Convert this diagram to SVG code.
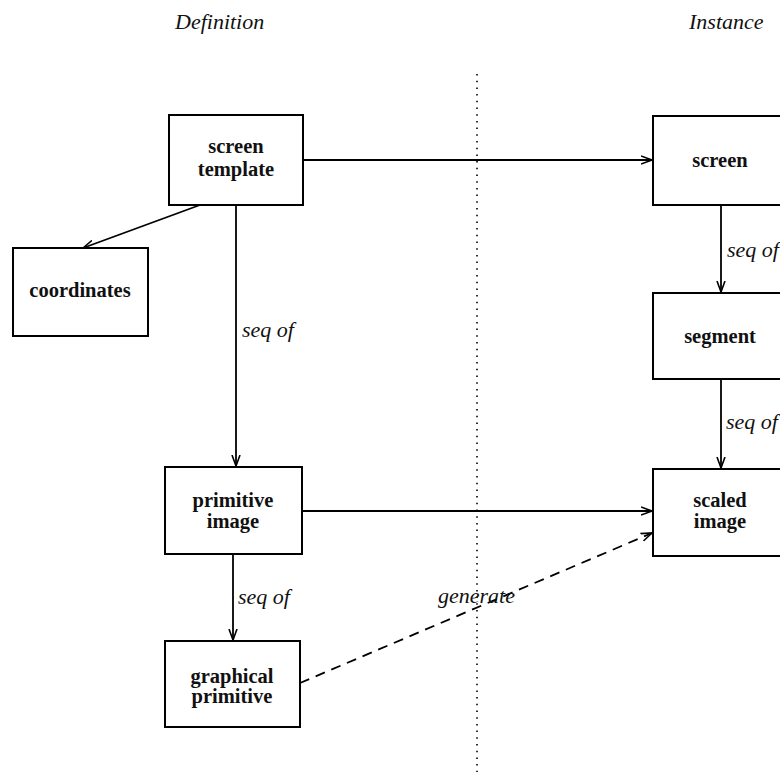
<svg xmlns="http://www.w3.org/2000/svg" width="780" height="779" viewBox="0 0 780 779">
<defs>
<marker id="open" viewBox="0 0 12 10" refX="11" refY="5" markerWidth="12" markerHeight="10" markerUnits="userSpaceOnUse" orient="auto">
<path d="M0,1 L11,5 L0,9" fill="none" stroke="#000" stroke-width="1.6"/>
</marker>
</defs>
<style>
.box{fill:#fff;stroke:#000;stroke-width:2}
.lbl{font-family:"Liberation Serif","Times New Roman",serif;font-size:20.5px;font-weight:bold;text-anchor:middle;fill:#111}
.it{font-family:"Liberation Serif","Times New Roman",serif;font-size:22px;font-style:italic;fill:#111}
.edge{fill:none;stroke:#000;stroke-width:1.8}
</style>
<rect width="780" height="779" fill="#fff"/>
<text class="it" x="175" y="29" font-size="22.5">Definition</text>
<text class="it" x="689" y="29" font-size="22.5">Instance</text>
<line x1="477" y1="74" x2="477" y2="772" stroke="#000" stroke-width="1.6" stroke-dasharray="1.5 5.2"/>
<g id="connectors">
<line class="edge" x1="303" y1="160" x2="652" y2="160" marker-end="url(#open)"/>
<line class="edge" x1="200" y1="205" x2="83" y2="248" marker-end="url(#open)"/>
<line class="edge" x1="236" y1="205" x2="236" y2="466" marker-end="url(#open)"/>
<text class="it" x="242" y="337">seq of</text>
<line class="edge" x1="721" y1="205" x2="721" y2="292" marker-end="url(#open)"/>
<text class="it" x="727" y="257">seq of</text>
<line class="edge" x1="721" y1="379" x2="721" y2="468" marker-end="url(#open)"/>
<text class="it" x="726" y="429">seq of</text>
<line class="edge" x1="302" y1="511" x2="652" y2="511" marker-end="url(#open)"/>
<line class="edge" x1="233" y1="554" x2="233" y2="640" marker-end="url(#open)"/>
<text class="it" x="238" y="604">seq of</text>
<line class="edge" x1="300" y1="683" x2="652" y2="533" stroke-dasharray="10 7" marker-end="url(#open)"/>
<text class="it" x="438" y="603">generate</text>
</g>
<g id="screen-template"><rect class="box" x="169" y="115" width="134" height="90"/><text class="lbl" x="236" y="153">screen</text><text class="lbl" x="236" y="176">template</text></g>
<g id="coordinates"><rect class="box" x="13" y="248" width="135" height="88"/><text class="lbl" x="80" y="297">coordinates</text></g>
<g id="screen"><rect class="box" x="653" y="116" width="134" height="89"/><text class="lbl" x="720" y="167">screen</text></g>
<g id="segment"><rect class="box" x="653" y="293" width="134" height="86"/><text class="lbl" x="720" y="343">segment</text></g>
<g id="scaled-image"><rect class="box" x="653" y="469" width="134" height="87"/><text class="lbl" x="720" y="507">scaled</text><text class="lbl" x="720" y="528">image</text></g>
<g id="primitive-image"><rect class="box" x="165" y="467" width="137" height="87"/><text class="lbl" x="233" y="507">primitive</text><text class="lbl" x="233" y="528">image</text></g>
<g id="graphical-primitive"><rect class="box" x="165" y="641" width="135" height="86"/><text class="lbl" x="232" y="683">graphical</text><text class="lbl" x="232" y="703">primitive</text></g>
</svg>
